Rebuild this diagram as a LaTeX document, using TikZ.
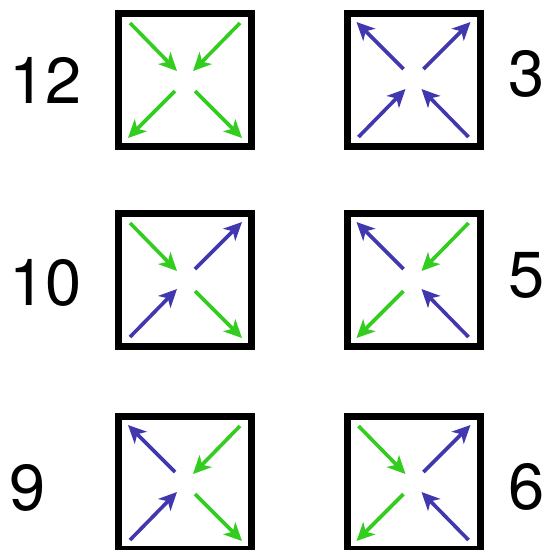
\documentclass[tikz,border=0pt]{standalone}
\usepackage{fontspec}
\setmainfont{TeX Gyre Heros}
\usetikzlibrary{calc,arrows.meta}
\definecolor{qgreen}{RGB}{50,205,30}
\definecolor{qblue}{RGB}{65,55,175}
\tikzset{
  qbox/.style={draw=black,line width=7pt,minimum size=133pt,inner sep=0pt,fill=white},
  arr/.style={line width=3.6pt,-{Stealth[length=18pt,width=17pt,inset=5pt]}},
  lbl/.style={inner sep=0pt,anchor=center,font=\fontsize{65}{65}\selectfont}
}
\newcommand\inarr[4]{\draw[arr,#4] ($(#1)+(#2*55,#3*57)$) -- ($(#1)+(#2*8,#3*9)$);}
\newcommand\outarr[4]{\draw[arr,#4] ($(#1)+(#2*10,#3*11)$) -- ($(#1)+(#2*57,#3*58)$);}
\begin{document}
\begin{tikzpicture}[x=1pt,y=-1pt]
\useasboundingbox (0,0) rectangle (548,550);
\clip (0,0) rectangle (548,550);
% boxes
\node[qbox] (b12) at (185,80) {};
\node[qbox] (b3) at (413.5,80) {};
\node[qbox] (b10) at (185,280) {};
\node[qbox] (b5) at (413.5,280) {};
\node[qbox] (b9) at (185,483) {};
\node[qbox] (b6) at (413.5,483) {};
% labels
\node[lbl] (l12) at (46,80) {12};
\node[lbl] (l10) at (46,283) {10};
\node[lbl] (l9) at (28,488) {9};
\node[lbl] (l3) at (527,74) {3};
\node[lbl] (l5) at (527,275) {5};
\node[lbl] (l6) at (527,487) {6};
% box 12
\inarr{b12}{-1}{-1}{qgreen}
\inarr{b12}{1}{-1}{qgreen}
\outarr{b12}{-1}{1}{qgreen}
\outarr{b12}{1}{1}{qgreen}
% box 3
\outarr{b3}{-1}{-1}{qblue}
\outarr{b3}{1}{-1}{qblue}
\inarr{b3}{-1}{1}{qblue}
\inarr{b3}{1}{1}{qblue}
% box 10
\inarr{b10}{-1}{-1}{qgreen}
\outarr{b10}{1}{-1}{qblue}
\inarr{b10}{-1}{1}{qblue}
\outarr{b10}{1}{1}{qgreen}
% box 5
\outarr{b5}{-1}{-1}{qblue}
\inarr{b5}{1}{-1}{qgreen}
\outarr{b5}{-1}{1}{qgreen}
\inarr{b5}{1}{1}{qblue}
% box 9
\outarr{b9}{-1}{-1}{qblue}
\inarr{b9}{1}{-1}{qgreen}
\inarr{b9}{-1}{1}{qblue}
\outarr{b9}{1}{1}{qgreen}
% box 6
\inarr{b6}{-1}{-1}{qgreen}
\outarr{b6}{1}{-1}{qblue}
\outarr{b6}{-1}{1}{qgreen}
\inarr{b6}{1}{1}{qblue}
\end{tikzpicture}
\end{document}
